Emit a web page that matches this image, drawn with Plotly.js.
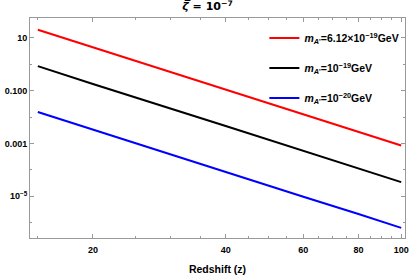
<!DOCTYPE html>
<html>
<head>
<meta charset="utf-8">
<script src="https://cdn.plot.ly/plotly-3.0.1.min.js"></script>
<style>html,body{margin:0;padding:0;background:#fff;}#chart{width:415px;height:277px;}</style>
</head>
<body>
<div id="chart"></div>
<script>
const redshift = [15, 20, 40, 60, 80, 100];
const seriesRed = [20.5, 4.4, 0.11, 0.0126, 0.0027, 0.00084];
const seriesBlack = [0.85, 0.18, 0.0046, 0.00052, 0.00011, 0.000034];
const seriesBlue = [0.0155, 0.0033, 0.000083, 0.0000095, 0.0000021, 0.00000063];
const seriesNames = [
  "<b><i>m</i><sub><i>A</i>'</sub>=6.12×10<sup>−19</sup>GeV</b>",
  "<b><i>m</i><sub><i>A</i>'</sub>=10<sup>−19</sup>GeV</b>",
  "<b><i>m</i><sub><i>A</i>'</sub>=10<sup>−20</sup>GeV</b>"
];
const xTickVals = [20, 40, 60, 80, 100];
const xTickText = ["20", "40", "60", "80", "100"];
const xMinorVals = [15, 25, 30, 35, 45, 50, 55, 65, 70, 75, 85, 90, 95];
const yTickVals = [10, 0.1, 0.001, 0.00001];
const yTickText = ["10", "0.100", "0.001", "10<sup>−5</sup>"];
const yMinorVals = [1, 0.01, 0.0001, 0.000001];

const colors = ["#ff0000", "#000000", "#0000ff"];
const allSeries = [seriesRed, seriesBlack, seriesBlue];
const traces = allSeries.map((s, i) => ({
  x: redshift, y: s, type: "scatter", mode: "lines",
  name: seriesNames[i], legendgroup: "g" + i,
  line: {color: colors[i], width: 2}
}));

const tickFont = {family: "Liberation Sans, Arial, sans-serif", size: 9, color: "#000", weight: "bold"};
const layout = {
  width: 415, height: 277,
  margin: {l: 30, r: 10, t: 18, b: 39},
  paper_bgcolor: "#fff", plot_bgcolor: "#fff",
  showlegend: true,
  title: {text: "<b><i>ζ̅</i> = 10<sup>−7</sup></b>", font: {family: "DejaVu Sans, Liberation Sans, sans-serif", size: 11, color: "#000"}, x: 0.5, xanchor: "center", y: 0.99, yanchor: "top"},
  legend: {x: 0.625, xanchor: "left", y: 0.975, yanchor: "top", bgcolor: "rgba(0,0,0,0)", borderwidth: 0,
    font: {family: "Liberation Sans, Arial, sans-serif", size: 10.5, color: "#000"}, tracegroupgap: 11, itemwidth: 30},
  xaxis: {
    type: "log", range: [Math.log10(14.4), Math.log10(102)],
    showgrid: false, zeroline: false, showline: true, linecolor: "#999", linewidth: 1, mirror: "allticks",
    ticks: "inside", ticklen: 4, tickcolor: "#999", tickwidth: 1, ticklabelstandoff: 3,
    tickmode: "array", tickvals: xTickVals, ticktext: xTickText, tickfont: tickFont,
    minor: {tickmode: "array", tickvals: xMinorVals, ticks: "inside", ticklen: 2, tickcolor: "#999", showgrid: false},
    title: {text: "<b>Redshift (z)</b>", font: {family: "Liberation Sans, Arial, sans-serif", size: 10.5, color: "#000"}, standoff: 11}
  },
  yaxis: {
    type: "log", range: [-6.585, 1.755],
    showgrid: false, zeroline: false, showline: true, linecolor: "#999", linewidth: 1, mirror: "allticks",
    ticks: "inside", ticklen: 4, tickcolor: "#999", tickwidth: 1,
    tickmode: "array", tickvals: yTickVals, ticktext: yTickText, tickfont: tickFont,
    minor: {tickmode: "array", tickvals: yMinorVals, ticks: "inside", ticklen: 2, tickcolor: "#999", showgrid: false}
  }
};
Plotly.newPlot("chart", traces, layout, {staticPlot: true, displayModeBar: false});
</script>
</body>
</html>
